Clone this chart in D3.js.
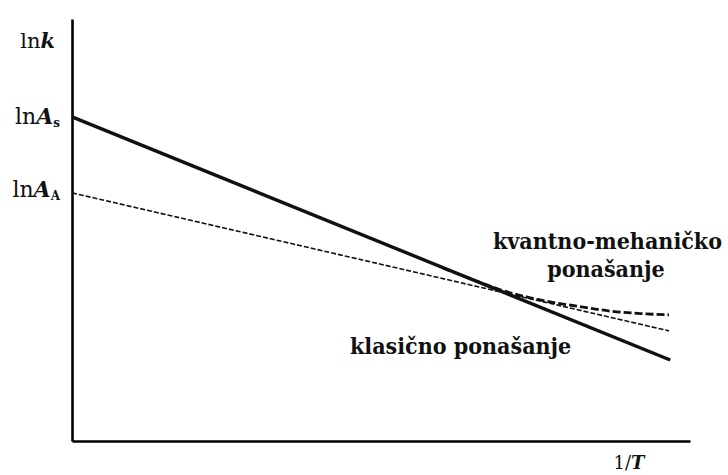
<!DOCTYPE html>
<html>
<head>
<meta charset="utf-8">
<script src="https://cdn.jsdelivr.net/npm/d3@7"></script>
<style>
  body { margin: 0; background: #fff; }
  svg { display: block; }
  text { font-family: "DejaVu Serif", "Liberation Serif", serif; font-weight: bold; fill: #111; }
  .note { font-stretch: condensed; }
</style>
</head>
<body>
<svg></svg>
<script>
const WIDTH = 728;
const HEIGHT = 475;
const AXIS_X = 72;   // where the y-axis sits
const AXIS_Y = 441;  // where the x-axis sits
const AXIS_TOP = 19;
const AXIS_RIGHT = 690;

// 1/T on x (arbitrary units), ln k on y (arbitrary units)
const classicalX = [0, 0.968];
const classicalY = [7.68, 1.92];      // ln A_s line, classical behaviour
const arrheniusX = [0, 0.966];
const arrheniusY = [5.88, 2.61];      // ln A_A line
const quantumX = [0.60, 0.66, 0.70, 0.74, 0.78, 0.82, 0.87, 0.92, 0.966];
const quantumY = [4.10, 3.76, 3.55, 3.40, 3.28, 3.19, 3.08, 3.02, 2.99];

const toPoints = (xs, ys) => xs.map((x, i) => [x, ys[i]]);

const svg = d3.select("svg")
  .attr("width", WIDTH)
  .attr("height", HEIGHT);

const xScale = d3.scaleLinear() // 1/T
  .domain([0, 1])
  .range([AXIS_X, AXIS_RIGHT]);

const yScale = d3.scaleLinear() // ln k
  .domain([0, 10])
  .range([AXIS_Y, AXIS_TOP]);

const line = d3.line()
  .x(d => xScale(d[0]))
  .y(d => yScale(d[1]));

// axes without ticks, just the lines
svg.append("g")
  .attr("id", "x-axis")
  .attr("transform", "translate(0," + AXIS_Y + ")")
  .call(d3.axisBottom(xScale).tickValues([]).tickSizeOuter(0))
  .select(".domain")
  .attr("stroke", "#000")
  .attr("stroke-width", 2.6);

svg.append("g")
  .attr("id", "y-axis")
  .attr("transform", "translate(" + AXIS_X + ",0)")
  .call(d3.axisLeft(yScale).tickValues([]).tickSizeOuter(0))
  .select(".domain")
  .attr("stroke", "#000")
  .attr("stroke-width", 2.6);

// thin dashed line from ln A_A
svg.append("path")
  .datum(toPoints(arrheniusX, arrheniusY))
  .attr("d", line)
  .attr("fill", "none")
  .attr("stroke", "#111")
  .attr("stroke-width", 1.6)
  .attr("stroke-dasharray", "5,2");

// quantum-mechanical curve, thick dashes, bends away from the solid line
svg.append("path")
  .datum(toPoints(quantumX, quantumY))
  .attr("d", line.curve(d3.curveMonotoneX))
  .attr("fill", "none")
  .attr("stroke", "#111")
  .attr("stroke-width", 2.8)
  .attr("stroke-dasharray", "8,3");
line.curve(d3.curveLinear);

// solid classical line from ln A_s
svg.append("path")
  .datum(toPoints(classicalX, classicalY))
  .attr("d", line)
  .attr("fill", "none")
  .attr("stroke", "#111")
  .attr("stroke-width", 3.4);

// y labels
const yLabel = (y, sub) => {
  const t = svg.append("text")
    .attr("x", 60)
    .attr("y", y)
    .attr("text-anchor", "end")
    .attr("dominant-baseline", "middle")
    .style("font-size", "22px");
  t.append("tspan").style("font-weight", "normal").text("ln");
  t.append("tspan").style("font-style", "italic").text("A");
  t.append("tspan").attr("dy", 5).style("font-size", "12px").text(sub);
};
yLabel(yScale(classicalY[0]) + 1, "s");
yLabel(yScale(arrheniusY[0]) - 2, "A");

const lnk = svg.append("text")
  .attr("x", 55)
  .attr("y", 48)
  .attr("text-anchor", "end")
  .style("font-size", "21px");
lnk.append("tspan").style("font-weight", "normal").text("ln");
lnk.append("tspan").style("font-style", "italic").text("k");

const invT = svg.append("text")
  .attr("x", 629)
  .attr("y", 469)
  .attr("text-anchor", "middle")
  .style("font-size", "18px");
invT.append("tspan").style("font-weight", "normal").text("1/");
invT.append("tspan").style("font-style", "italic").text("T");

// annotations
svg.append("text")
  .attr("class", "note")
  .attr("x", 722)
  .attr("y", 249)
  .attr("text-anchor", "end")
  .style("font-size", "23px")
  .text("kvantno-mehaničko");

svg.append("text")
  .attr("class", "note")
  .attr("x", 606)
  .attr("y", 277)
  .attr("text-anchor", "middle")
  .style("font-size", "23px")
  .text("ponašanje");

svg.append("text")
  .attr("class", "note")
  .attr("x", 350)
  .attr("y", 354)
  .style("font-size", "23px")
  .text("klasično ponašanje");
</script>
</body>
</html>
